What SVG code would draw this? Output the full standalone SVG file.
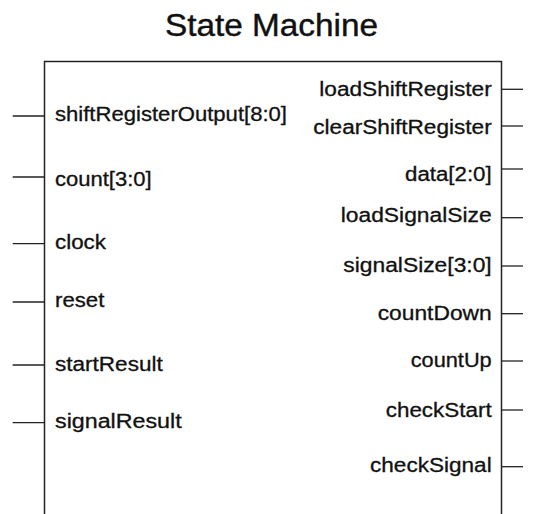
<svg xmlns="http://www.w3.org/2000/svg" width="535" height="514" viewBox="0 0 535 514">
<style>
text{font-family:"Liberation Sans",Arial,Helvetica,sans-serif;fill:#111;stroke:#111;stroke-width:0.3;}
.t{font-size:31px;stroke-width:0.4;}
.l{font-size:19.5px;}
.box{fill:#fff;stroke:#222;stroke-width:1.5;}
.w{stroke:#222;stroke-width:1.3;fill:none;}
</style>
<rect width="535" height="514" fill="#fff"/>
<text class="t" x="165" y="36.3" textLength="213" lengthAdjust="spacingAndGlyphs">State Machine</text>
<g id="state-machine">
<rect class="box" x="44.5" y="61.5" width="457" height="470"/>
<g id="inputs">
<text class="l" x="55" y="121" textLength="232" lengthAdjust="spacingAndGlyphs">shiftRegisterOutput[8:0]</text>
<text class="l" x="55" y="185.5" textLength="96.7" lengthAdjust="spacingAndGlyphs">count[3:0]</text>
<text class="l" x="55" y="248.5" textLength="51" lengthAdjust="spacingAndGlyphs">clock</text>
<text class="l" x="55" y="306.5" textLength="49.3" lengthAdjust="spacingAndGlyphs">reset</text>
<text class="l" x="55" y="370.5" textLength="107.7" lengthAdjust="spacingAndGlyphs">startResult</text>
<text class="l" x="55" y="428" textLength="126.7" lengthAdjust="spacingAndGlyphs">signalResult</text>
</g>
<g id="outputs">
<text class="l" x="319.3" y="96" textLength="172.4" lengthAdjust="spacingAndGlyphs">loadShiftRegister</text>
<text class="l" x="313.3" y="133.5" textLength="178.4" lengthAdjust="spacingAndGlyphs">clearShiftRegister</text>
<text class="l" x="405" y="181" textLength="86.7" lengthAdjust="spacingAndGlyphs">data[2:0]</text>
<text class="l" x="340.7" y="222" textLength="151" lengthAdjust="spacingAndGlyphs">loadSignalSize</text>
<text class="l" x="343.3" y="271.5" textLength="148.4" lengthAdjust="spacingAndGlyphs">signalSize[3:0]</text>
<text class="l" x="377.7" y="319.5" textLength="114" lengthAdjust="spacingAndGlyphs">countDown</text>
<text class="l" x="410.7" y="366.5" textLength="81" lengthAdjust="spacingAndGlyphs">countUp</text>
<text class="l" x="385.7" y="417" textLength="106" lengthAdjust="spacingAndGlyphs">checkStart</text>
<text class="l" x="370" y="472" textLength="121.7" lengthAdjust="spacingAndGlyphs">checkSignal</text>
</g>
</g>
<g id="connectors">
<line class="w" x1="12.7" y1="116" x2="44.5" y2="116"/>
<line class="w" x1="12.7" y1="177" x2="44.5" y2="177"/>
<line class="w" x1="12.7" y1="243.7" x2="44.5" y2="243.7"/>
<line class="w" x1="12.7" y1="302" x2="44.5" y2="302"/>
<line class="w" x1="12.7" y1="365" x2="44.5" y2="365"/>
<line class="w" x1="12.7" y1="422.7" x2="44.5" y2="422.7"/>
<line class="w" x1="501.5" y1="89.3" x2="523" y2="89.3"/>
<line class="w" x1="501.5" y1="126" x2="523" y2="126"/>
<line class="w" x1="501.5" y1="169" x2="523" y2="169"/>
<line class="w" x1="501.5" y1="217.7" x2="523" y2="217.7"/>
<line class="w" x1="501.5" y1="266" x2="523" y2="266"/>
<line class="w" x1="501.5" y1="313.7" x2="523" y2="313.7"/>
<line class="w" x1="501.5" y1="361" x2="523" y2="361"/>
<line class="w" x1="501.5" y1="410" x2="523" y2="410"/>
<line class="w" x1="501.5" y1="466.7" x2="523" y2="466.7"/>
</g>
</svg>
